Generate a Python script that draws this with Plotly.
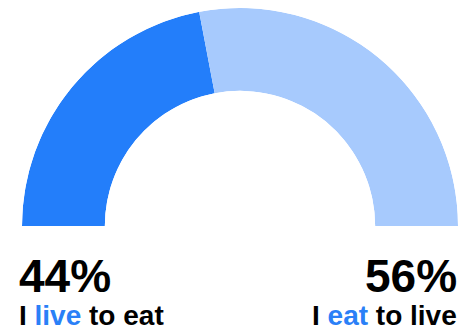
import plotly.graph_objects as go

labels = ["I live to eat", "I eat to live"]
shares = [44, 56]
pct_labels = ["44%", "56%"]
highlight_words = ["live", "eat"]
colors = ["#237EFA", "#A7CAFD"]
text_blue = "#2A80F7"

W, H = 460, 332
ml, mr, mt, mb = 22, 2, 8, 106
pw, ph = W - ml - mr, H - mt - mb

# angular positions from data (semicircle = 180 degrees)
total = sum(shares)
widths = [s / total * 180 for s in shares]
centers = []
acc = 0
for w in widths:
    centers.append(acc + w / 2)
    acc += w

fig = go.Figure()
fig.add_trace(go.Barpolar(
    r=[1, 1], theta=centers, width=widths,
    marker=dict(color=colors, line=dict(width=0)),
    hoverinfo="skip", showlegend=False,
))
fig.update_layout(
    width=W, height=H,
    margin=dict(l=ml, r=mr, t=mt, b=mb, pad=0),
    paper_bgcolor="white", plot_bgcolor="white",
    polar=dict(
        sector=[0, 180], hole=0.62, bgcolor="white",
        domain=dict(x=[0, 1], y=[0, 1]),
        radialaxis=dict(visible=False, range=[0, 1]),
        angularaxis=dict(visible=False, direction="clockwise", rotation=180),
    ),
    showlegend=False,
)

def px2paper(x, y):
    return (x - ml) / pw, (H - mb - y) / ph

font_family = "Liberation Sans, Arial, sans-serif"
for i, (lab, pct, hw) in enumerate(zip(labels, pct_labels, highlight_words)):
    left = i == 0
    xpx = 17 if left else 459
    anchor = "left" if left else "right"
    x, y1 = px2paper(xpx, 276)
    _, y2 = px2paper(xpx, 315)
    fig.add_annotation(x=x, y=y1, xref="paper", yref="paper", text=f"<b>{pct}</b>",
                       showarrow=False, xanchor=anchor, yanchor="middle",
                       font=dict(family=font_family, size=46, color="#000"))
    rich = lab.replace(hw, f"<span style='color:{text_blue}'>{hw}</span>", 1)
    fig.add_annotation(x=x, y=y2, xref="paper", yref="paper", text=f"<b>{rich}</b>",
                       showarrow=False, xanchor=anchor, yanchor="middle",
                       font=dict(family=font_family, size=28, color="#000"))

fig.write_html("out.html")
